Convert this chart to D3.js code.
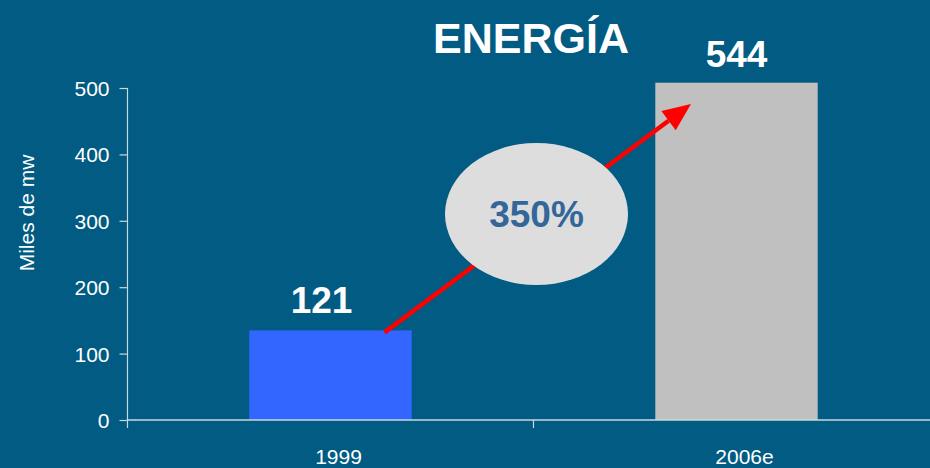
<!DOCTYPE html>
<html><head><meta charset="utf-8">
<script src="https://cdn.jsdelivr.net/npm/d3@7"></script>
<style>html,body{margin:0;padding:0;background:#015b82;}svg{display:block;font-family:"Liberation Sans",Arial,sans-serif;}</style>
</head><body>
<svg id="c" width="930" height="468"></svg>
<script>
const categories = ["1999", "2006e"];
const barValues = [135, 508];          // drawn bar heights (as in picture)
const barLabels = ["121", "544"];      // data labels shown above bars
const barColors = ["#3366ff", "#c0c0c0"];
const yTicks = [0, 100, 200, 300, 400, 500];
const growthLabel = "350%";
const title = "ENERGÍA";
const yTitle = "Miles de mw";

const svg = d3.select("#c");
const W = 930, H = 468;
svg.append("rect").attr("width", W).attr("height", H).attr("fill", "#015b82");

const x = d3.scaleBand().domain(categories).range([127.5, 939.5]).padding(0);
const y = d3.scaleLinear().domain([0, 500]).range([420, 88]);
const bw = x.bandwidth() * 0.4;

// bars
svg.selectAll(".bar").data(categories).enter().append("rect")
  .attr("x", d => x(d) + x.bandwidth() / 2 - bw / 2)
  .attr("y", (d, i) => y(barValues[i]))
  .attr("width", bw)
  .attr("height", (d, i) => y(0) - y(barValues[i]))
  .attr("fill", (d, i) => barColors[i]);

// y axis
const axisColor = "#c8d8e0";
const yAxis = svg.append("g").attr("transform", "translate(127.5,0)")
  .call(d3.axisLeft(y).tickValues(yTicks).tickSize(8).tickPadding(10));
yAxis.attr("font-size", null).attr("font-family", null);
yAxis.select(".domain").remove();
yAxis.selectAll("line").attr("stroke", axisColor).attr("stroke-width", 1.2);
yAxis.selectAll("text").attr("fill", "#ffffff").style("font-size", "21px").attr("dy", "0.36em");
svg.append("line").attr("x1", 127.5).attr("x2", 127.5).attr("y1", 88).attr("y2", 428)
  .attr("stroke", axisColor).attr("stroke-width", 1.2);

// x axis
svg.append("line").attr("x1", 127.5).attr("x2", W).attr("y1", 420).attr("y2", 420)
  .attr("stroke", axisColor).attr("stroke-width", 1.5);
svg.append("line").attr("x1", x(categories[1])).attr("x2", x(categories[1]))
  .attr("y1", 420).attr("y2", 428).attr("stroke", axisColor).attr("stroke-width", 1.2);
svg.selectAll(".xl").data(categories).enter().append("text")
  .attr("x", d => x(d) + x.bandwidth() / 2 + 8)
  .attr("y", 464).attr("text-anchor", "middle").attr("fill", "#fff")
  .style("font-size", "21px").text(d => d);

// y title
svg.append("text").attr("transform", "translate(34,213) rotate(-90)")
  .attr("text-anchor", "middle").attr("fill", "#fff").style("font-size", "21px").text(yTitle);

// bar labels
svg.selectAll(".bl").data(categories).enter().append("text")
  .attr("x", (d, i) => x(d) + x.bandwidth() / 2 - (i === 0 ? 9 : 0))
  .attr("y", (d, i) => y(barValues[i]) - (i === 0 ? 17 : 16))
  .attr("text-anchor", "middle").attr("fill", "#fff")
  .style("font-size", "37px").style("font-weight", "bold")
  .text((d, i) => barLabels[i]);

// title
svg.append("text").attr("x", 531).attr("y", 53).attr("text-anchor", "middle")
  .attr("fill", "#fff").style("font-size", "43px").style("font-weight", "bold").text(title);

// arrow
const x0 = x(categories[0]) + x.bandwidth() / 2 + 54, y0 = y(barValues[0]) + 2;
const x1 = 691, y1 = 104;
const ang = Math.atan2(y1 - y0, x1 - x0);
const headLen = 28, headW = 12;
const bx = x1 - headLen * Math.cos(ang), by = y1 - headLen * Math.sin(ang);
svg.append("line").attr("x1", x0).attr("y1", y0).attr("x2", bx).attr("y2", by)
  .attr("stroke", "#ff0000").attr("stroke-width", 4.5);
const px = -Math.sin(ang), py = Math.cos(ang);
svg.append("path")
  .attr("d", `M${x1},${y1} L${bx + px * headW},${by + py * headW} L${bx - px * headW},${by - py * headW} Z`)
  .attr("fill", "#ff0000");

// ellipse
svg.append("ellipse").attr("cx", 536.5).attr("cy", 214).attr("rx", 91.5).attr("ry", 71).attr("fill", "#dddddd");
svg.append("text").attr("x", 536.5).attr("y", 227).attr("text-anchor", "middle")
  .attr("fill", "#336699").style("font-size", "37px").style("font-weight", "bold").text(growthLabel);
</script>
</body></html>
